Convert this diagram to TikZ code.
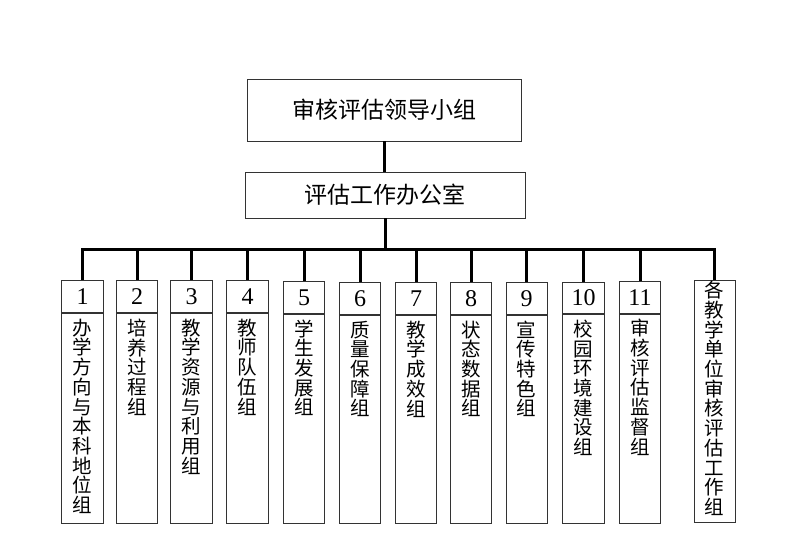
\documentclass[tikz,border=0pt]{standalone}
\usepackage{fontspec}
\setmainfont{Liberation Serif}
\newfontfamily\cjk{Noto Sans CJK SC}
\begin{document}
\begin{tikzpicture}[x=1pt,y=-1pt,
  box/.style={draw=black!80, line width=0.9pt, inner sep=0pt, fill=white},
  conn/.style={line width=3pt, draw=black},
  headtext/.style={font=\cjk\fontsize{23}{23}\selectfont},
  numtext/.style={font=\fontsize{24}{24}\selectfont},
  vlabel/.style={font=\cjk\fontsize{19.5}{19.7}\selectfont, align=center, inner sep=0pt, text width=20pt}]
\useasboundingbox (0,0) rectangle (811,551);
\node[box, headtext, minimum width=274pt, minimum height=62pt] (lead) at (384,110) {审核评估领导小组};
\node[box, headtext, minimum width=280pt, minimum height=46pt] (office) at (385,195) {评估工作办公室};
\coordinate (bar) at (386,249.3);
\foreach \i/\x/\t/\d/\txt in {
  1/82.5/280/312.3/{办\\学\\方\\向\\与\\本\\科\\地\\位\\组},
  2/137/280/312.3/{培\\养\\过\\程\\组},
  3/191.5/280/312.3/{教\\学\\资\\源\\与\\利\\用\\组},
  4/247.5/280/312.3/{教\\师\\队\\伍\\组},
  5/304/280.7/313/{学\\生\\发\\展\\组},
  6/360/281.7/314.3/{质\\量\\保\\障\\组},
  7/416/281.7/314.3/{教\\学\\成\\效\\组},
  8/471/281.7/314/{状\\态\\数\\据\\组},
  9/526.7/281.7/314/{宣\\传\\特\\色\\组},
  10/583.5/281.7/313.3/{校\\园\\环\\境\\建\\设\\组},
  11/640/280.7/312.7/{审\\核\\评\\估\\监\\督\\组}}{
  \node[box, numtext, minimum width=41.5pt, minimum height={(\d-\t)*1pt}, anchor=north] (n\i) at (\x,\t) {\i};
  \node[box, minimum width=41.5pt, minimum height={(521.7-\d)*1pt}, anchor=north] (t\i) at (n\i.south) {};
  \node[vlabel, anchor=north] (l\i) at ([yshift=-5.5pt]t\i.north) {\txt};
}
\node[box, minimum width=41.5pt, minimum height=241.7pt, anchor=north] (g12) at (714.7,280) {};
\node[vlabel, anchor=north] (l12) at ([yshift=-1pt]g12.north) {各\\教\\学\\单\\位\\审\\核\\评\\估\\工\\作\\组};
\draw[conn] (lead.south) -- (lead.south |- office.north);
\draw[conn] (office.south) -- (office.south |- bar);
\draw[conn, line join=miter] (n1.north) |- (g12.north |- bar) -- (g12.north);
\foreach \i in {2,...,11}{
  \draw[conn] (n\i.north) -- (n\i.north |- bar);
}
\end{tikzpicture}
\end{document}
